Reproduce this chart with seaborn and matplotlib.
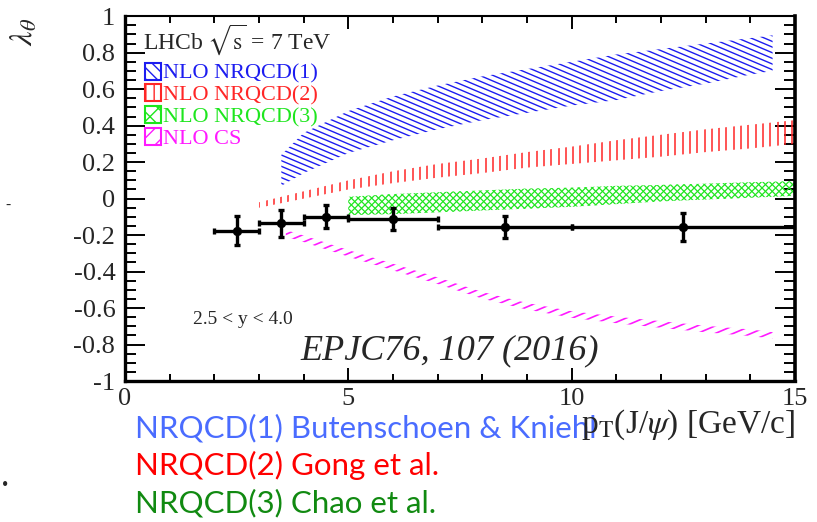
import numpy as np
import pandas as pd
import matplotlib
matplotlib.use("Agg")
import matplotlib.pyplot as plt
import seaborn as sns
from matplotlib.collections import LineCollection
from matplotlib.patches import Patch
from matplotlib.ticker import MultipleLocator

# LHCb J/psi polarisation measurement, 2.5 < y < 4.0
pt = [2.5, 3.5, 4.5, 6.0, 8.5, 12.5]
pt_lo = [2.0, 3.0, 4.0, 5.0, 7.0, 10.0]
pt_hi = [3.0, 4.0, 5.0, 7.0, 10.0, 15.0]
lam = [-0.175, -0.135, -0.10, -0.11, -0.155, -0.155]
lam_err = [0.078, 0.073, 0.063, 0.06, 0.062, 0.078]

# NLO NRQCD(1) band
x_nrqcd1 = [3.5, 4, 5, 6, 7, 8, 9, 10, 11, 12, 13, 14, 14.5]
lo_nrqcd1 = [0.07, 0.14, 0.25, 0.32, 0.38, 0.43, 0.47, 0.51, 0.54, 0.59, 0.63, 0.68, 0.70]
hi_nrqcd1 = [0.24, 0.36, 0.48, 0.56, 0.62, 0.67, 0.71, 0.75, 0.79, 0.82, 0.85, 0.88, 0.895]

# NLO NRQCD(2) band
x_nrqcd2 = [3, 4, 5, 6, 7, 8, 9, 10, 11, 12, 13, 14, 15]
lo_nrqcd2 = [-0.05, 0.0, 0.05, 0.085, 0.115, 0.14, 0.17, 0.19, 0.21, 0.23, 0.255, 0.275, 0.30]
hi_nrqcd2 = [-0.02, 0.04, 0.10, 0.15, 0.19, 0.22, 0.255, 0.285, 0.32, 0.35, 0.38, 0.405, 0.43]

# NLO NRQCD(3) band
x_nrqcd3 = [5, 6, 7, 8, 9, 10, 11, 12, 13, 14, 15]
lo_nrqcd3 = [-0.09, -0.085, -0.075, -0.065, -0.055, -0.045, -0.03, -0.015, -0.005, 0.005, 0.015]
hi_nrqcd3 = [0.01, 0.025, 0.035, 0.045, 0.055, 0.06, 0.07, 0.075, 0.082, 0.09, 0.095]

# NLO colour-singlet band
x_cs = [3.6, 4, 5, 6, 7, 8, 9, 10, 11, 12, 13, 14, 14.5]
lo_cs = [-0.208, -0.238, -0.318, -0.393, -0.468, -0.548, -0.608, -0.653, -0.683, -0.708, -0.733, -0.753, -0.768]
hi_cs = [-0.172, -0.202, -0.282, -0.357, -0.432, -0.512, -0.572, -0.617, -0.647, -0.672, -0.697, -0.717, -0.732]

legend_labels = ["NLO NRQCD(1)", "NLO NRQCD(2)", "NLO NRQCD(3)", "NLO CS"]
model_notes = ["NRQCD(1) Butenschoen & Kniehl", "NRQCD(2) Gong et al.", "NRQCD(3) Chao et al."]

C_BLUE = "#1c1cf0"
C_RED = "#ff2626"
C_GREEN = "#1ee61e"
C_MAG = "#ff1aff"
SERIF = ["Liberation Serif", "DejaVu Serif"]

sns.set_style("ticks")
plt.rcParams["font.family"] = SERIF
plt.rcParams["font.serif"] = SERIF
plt.rcParams["mathtext.fontset"] = "stix"
plt.rcParams["axes.unicode_minus"] = False
plt.rcParams["hatch.linewidth"] = 1.0

W_PX, H_PX = 817, 522
fig = plt.figure(figsize=(W_PX / 100, H_PX / 100), dpi=100)
ax = fig.add_axes([0.153, 0.270, 0.820, 0.699])
ax.set_xlim(0, 15)
ax.set_ylim(-1, 1)


def px(x, y):
    return x / W_PX, 1 - y / H_PX


def hatch_band(x, lo, hi, color, angles, spacing, lw):
    """Fill the band between lo and hi with parallel hatch lines (angle in screen degrees)."""
    poly = ax.fill_between(x, lo, hi, facecolor="none", edgecolor="none", linewidth=0)
    clip = poly.get_paths()[0]
    w, h = ax.bbox.width, ax.bbox.height
    diag = np.hypot(w, h)
    centre = np.array([w / 2, h / 2])
    for ang in angles:
        th = np.deg2rad(ang)
        d = np.array([np.cos(th), np.sin(th)])
        n = np.array([-np.sin(th), np.cos(th)])
        segs = []
        for off in np.arange(-diag, diag, spacing):
            p = centre + n * off
            a = (p - d * diag) / [w, h]
            b = (p + d * diag) / [w, h]
            segs.append([a, b])
        lc = LineCollection(segs, colors=color, linewidths=lw, transform=ax.transAxes, zorder=2)
        ax.add_collection(lc, autolim=False)
        lc.set_clip_path(clip, ax.transData)


hatch_band(x_nrqcd1, lo_nrqcd1, hi_nrqcd1, C_BLUE, [-23], 5.2, 1.0)
hatch_band(x_nrqcd2, lo_nrqcd2, hi_nrqcd2, C_RED, [90], 7.3, 1.1)
hatch_band(x_nrqcd3, lo_nrqcd3, hi_nrqcd3, C_GREEN, [45, -45], 4.8, 0.9)
hatch_band(x_cs, lo_cs, hi_cs, C_MAG, [23], 7.0, 1.2)

# data points with asymmetric pT bins
df = pd.DataFrame({"pt": pt, "lam": lam})
xerr = [np.array(pt) - np.array(pt_lo), np.array(pt_hi) - np.array(pt)]
ax.errorbar(pt, lam, xerr=xerr, yerr=lam_err, fmt="none", ecolor="black",
            elinewidth=2.4, capsize=2.5, capthick=2.4, zorder=5)
sns.scatterplot(data=df, x="pt", y="lam", ax=ax, color="black", s=45,
                edgecolor="black", linewidth=0, zorder=6, legend=False)
ax.set_xlabel("")
ax.set_ylabel("")

# axes frame and ticks
for side, lw in [("left", 2.4), ("bottom", 2.4), ("right", 2.6), ("top", 1.5)]:
    ax.spines[side].set_visible(True)
    ax.spines[side].set_linewidth(lw)
    ax.spines[side].set_color("black")
ax.xaxis.set_major_locator(MultipleLocator(5))
ax.xaxis.set_minor_locator(MultipleLocator(1))
ax.yaxis.set_major_locator(MultipleLocator(0.2))
ax.yaxis.set_minor_locator(MultipleLocator(0.05))
ax.tick_params(which="both", direction="in", top=True, right=True, color="black", width=1.4)
ax.tick_params(axis="x", which="major", length=9.5, pad=5, labelsize=19, labelfontfamily="Liberation Serif")
ax.tick_params(axis="x", which="minor", length=5)
ax.tick_params(axis="y", which="major", length=14.5, pad=7, labelsize=19, labelfontfamily="Liberation Serif")
ax.tick_params(axis="y", which="minor", length=8)
ax.set_yticks(np.round(np.arange(-1, 1.01, 0.2), 1))
ax.set_yticklabels(["-1", "-0.8", "-0.6", "-0.4", "-0.2", "0", "0.2", "0.4", "0.6", "0.8", "1"])
ax.set_xticks([0, 5, 10, 15])
ax.set_xticklabels(["0", "5", "10", "15"])
for lab in ax.get_xticklabels() + ax.get_yticklabels():
    lab.set_fontfamily(SERIF)

# legend with hatched boxes
handles = [
    Patch(facecolor="white", edgecolor=C_BLUE, hatch="\\\\\\", linewidth=1.5),
    Patch(facecolor="white", edgecolor=C_RED, hatch="||", linewidth=1.5),
    Patch(facecolor="white", edgecolor=C_GREEN, hatch="xx", linewidth=1.5),
    Patch(facecolor="white", edgecolor=C_MAG, hatch="//", linewidth=1.5),
]
leg = ax.legend(handles, legend_labels, loc="upper left", bbox_to_anchor=(0.030, 0.873),
                frameon=False, prop={"family": SERIF, "size": 16}, handlelength=0.7,
                handleheight=0.8, handletextpad=0.1, labelspacing=0.02, borderpad=0,
                borderaxespad=0)
for txt, c in zip(leg.get_texts(), [C_BLUE, C_RED, C_GREEN, C_MAG]):
    txt.set_color(c)

# annotations inside the frame
fig.text(*px(143, 40), r"LHCb $\sqrt{\mathrm{s}}$ = 7 TeV", fontsize=17, ha="left", va="center")
fig.text(*px(193, 320), "2.5 < y < 4.0", fontsize=14, ha="left", va="center")
fig.text(*px(300, 351), "EPJC76, 107 (2016)", fontsize=26, style="italic", ha="left", va="center")

# axis titles
fig.text(*px(25, 18), r"$\lambda_{\theta}$", fontsize=23, rotation=90, ha="center", va="top")

# model references below the frame
note_colors = ["#4a6cff", "#ff0000", "#118a11"]
for i, (note, c) in enumerate(zip(model_notes, note_colors)):
    fig.text(*px(135, 428 + 37.5 * i), note, fontsize=22.5, color=c, ha="left", va="center",
             family=["Lato", "DejaVu Sans"], zorder=1)

fig.text(*px(795, 425), r"p$_{\mathrm{T}}$(J/$\psi$) [GeV/c]", fontsize=24,
         ha="right", va="center", zorder=3)

# stray marks at the left margin
fig.text(*px(8, 205), "-", fontsize=11, ha="center", va="center")
fig.text(*px(5, 486), "•", fontsize=13, ha="center", va="center")

fig.savefig("out.png", dpi=100)
